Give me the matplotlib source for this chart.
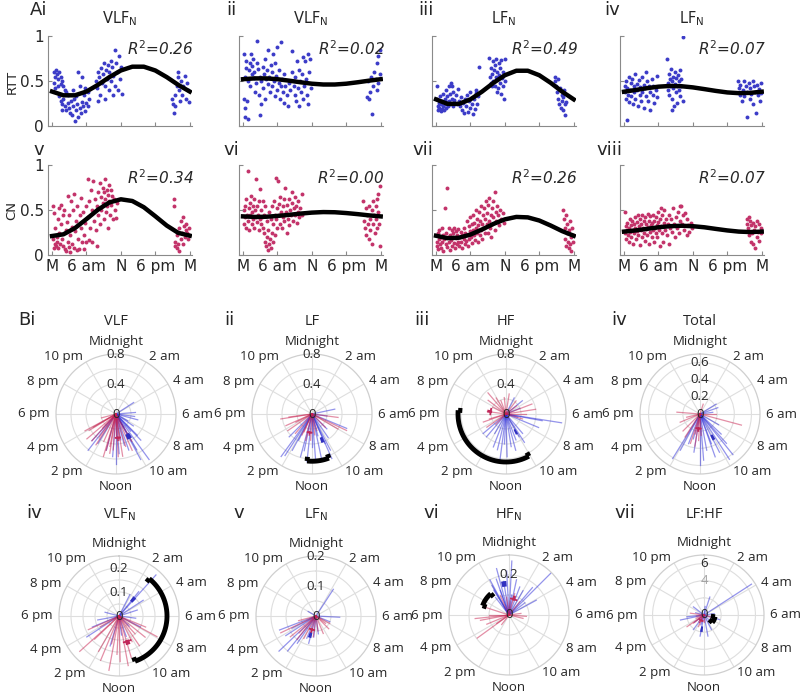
import numpy as np
import matplotlib.pyplot as plt

W, H = 800, 697
BLUE = '#3c3cc8'
RED = '#c3336a'

# ---------------- A: scatter panels (hour, value) ----------------
rtt_vlf = [(0.3,0.60),(0.5,0.55),(0.7,0.62),(0.9,0.58),(1.1,0.52),(0.4,0.48),(1.3,0.60),(1.6,0.55),
           (1.8,0.50),(2.0,0.45),(0.6,0.42),(2.2,0.40),(1.0,0.45),(1.5,0.47),(2.4,0.38),
           (1.2,0.33),(1.5,0.28),(1.8,0.25),(2.0,0.30),(2.3,0.22),(2.5,0.18),(2.7,0.26),(3.0,0.20),
           (3.2,0.15),(3.3,0.28),(3.5,0.12),(3.7,0.22),(3.9,0.30),(4.0,0.06),(4.2,0.18),(4.4,0.25),
           (4.6,0.10),(4.8,0.20),(5.0,0.14),(5.2,0.27),(5.4,0.22),(5.6,0.35),(5.8,0.17),(6.0,0.26),
           (6.3,0.22),(2.8,0.35),(3.6,0.40),(1.7,0.18),(4.1,0.33),(4.9,0.45),(5.3,0.55),(5.7,0.42),
           (6.5,0.30),(6.2,0.38),(4.6,0.60),
           (7.7,0.50),(7.9,0.42),(8.0,0.60),(8.2,0.55),(8.4,0.35),(8.5,0.65),(8.7,0.48),(8.9,0.58),
           (9.0,0.70),(9.2,0.45),(9.4,0.62),(9.5,0.52),(9.7,0.68),(9.9,0.40),(10.0,0.60),(10.2,0.72),
           (10.3,0.50),(10.5,0.66),(10.7,0.56),(10.9,0.85),(11.0,0.45),(11.2,0.70),(11.4,0.60),
           (11.6,0.78),(11.8,0.52),(12.0,0.66),(12.2,0.36),(11.5,0.40),(10.6,0.35),(9.3,0.30),(8.1,0.28),
           (20.9,0.30),(21.1,0.25),(21.3,0.15),(21.5,0.35),(21.7,0.45),(21.9,0.55),(22.1,0.40),
           (22.3,0.28),(22.5,0.50),(22.7,0.35),(22.9,0.45),(23.1,0.56),(23.3,0.30),(23.5,0.48),
           (23.7,0.40),(23.9,0.27),(22.0,0.60),(21.4,0.22)]
rtt_vlf2 = [(0.1,0.80),(0.2,0.30),(0.3,0.20),(0.4,0.10),(0.5,0.65),(0.3,0.55),(0.6,0.72),(0.7,0.28),
            (0.8,0.08),(0.9,0.50),(1.0,0.62),(1.2,0.70),(1.3,0.45),(1.4,0.80),(1.5,0.58),(1.6,0.67),
            (1.8,0.75),(1.9,0.53),(2.0,0.60),(2.1,0.38),(2.2,0.48),(2.4,0.70),(2.5,0.95),(2.6,0.63),
            (2.8,0.35),(2.9,0.55),(3.0,0.12),(3.1,0.25),(3.2,0.50),(3.4,0.66),(3.5,0.42),(3.6,0.58),
            (3.8,0.30),(3.9,0.75),(4.0,0.52),(4.2,0.62),(4.3,0.47),(4.4,0.85),(4.6,0.55),(4.7,0.38),
            (4.8,0.68),(5.0,0.60),(5.1,0.45),(5.2,0.80),(5.4,0.50),(5.5,0.33),(5.6,0.70),(5.8,0.56),
            (5.9,0.40),(6.0,0.88),(6.2,0.48),(6.3,0.62),(6.4,0.30),(6.6,0.44),(6.7,0.93),(6.8,0.52),
            (7.0,0.38),(7.1,0.26),(7.2,0.58),(7.4,0.45),(7.6,0.35),(7.8,0.22),(8.0,0.48),(8.2,0.40),
            (8.5,0.83),(8.6,0.60),(8.8,0.45),(9.0,0.35),(9.1,0.55),(9.3,0.28),(9.4,0.72),(9.5,0.42),
            (9.7,0.62),(9.8,0.22),(10.0,0.50),(10.1,0.38),(10.3,0.58),(10.4,0.77),(10.5,0.30),
            (10.6,0.45),(10.8,0.72),(11.0,0.52),(11.1,0.35),(11.3,0.80),(11.4,0.25),(11.5,0.60),
            (11.6,0.75),(11.8,0.42),(21.6,0.32),(21.8,0.50),(22.0,0.30),(22.3,0.55),(22.5,0.13),
            (22.7,0.45),(22.9,0.60),(23.1,0.52),(23.3,0.70),(23.5,0.48),(23.6,0.78),(23.8,0.58),
            (23.9,0.85),(23.4,0.40),(22.2,0.38)]
rtt_lf = [(0.1,0.30),(0.2,0.44),(0.3,0.22),(0.4,0.18),(0.5,0.26),(0.6,0.20),(0.7,0.33),(0.8,0.17),
          (0.9,0.24),(1.0,0.28),(1.1,0.19),(1.2,0.36),(1.3,0.22),(1.4,0.18),(1.5,0.30),(1.6,0.24),
          (1.7,0.40),(1.8,0.20),(1.9,0.27),(2.0,0.33),(2.1,0.22),(2.2,0.44),(2.3,0.28),(2.4,0.36),
          (2.5,0.25),(2.6,0.48),(2.7,0.30),(2.8,0.45),(2.9,0.22),(3.0,0.38),(3.2,0.29),(3.4,0.35),
          (3.6,0.24),(3.8,0.41),(4.0,0.28),(4.2,0.22),(4.4,0.32),(4.6,0.18),(4.7,0.26),(4.9,0.14),
          (5.0,0.30),(5.2,0.22),(5.4,0.35),(5.5,0.16),(5.7,0.28),(5.9,0.20),(6.0,0.38),(6.2,0.25),
          (6.4,0.13),(6.6,0.30),(6.8,0.19),(7.0,0.37),(7.2,0.24),(7.4,0.33),(7.5,0.66),(6.9,0.40),
          (9.2,0.76),(9.4,0.55),(9.5,0.48),(9.6,0.65),(9.8,0.58),(9.9,0.72),(10.0,0.50),(10.1,0.62),
          (10.2,0.45),(10.3,0.68),(10.4,0.55),(10.5,0.75),(10.6,0.52),(10.7,0.60),(10.8,0.42),
          (10.9,0.70),(11.0,0.57),(11.1,0.48),(11.2,0.64),(11.3,0.36),(11.4,0.73),(11.5,0.53),
          (11.6,0.45),(11.7,0.60),(11.8,0.30),(12.0,0.50),(12.1,0.75),(9.7,0.44),(10.6,0.38),
          (20.7,0.55),(20.8,0.50),(21.0,0.45),(21.1,0.38),(21.2,0.52),(21.3,0.30),(21.5,0.25),
          (21.6,0.42),(21.7,0.20),(21.9,0.35),(22.0,0.28),(22.1,0.18),(22.2,0.32),(22.4,0.24),
          (22.5,0.12),(22.7,0.27),(22.3,0.40)]
rtt_lf2 = [(0.1,0.45),(0.2,0.38),(0.3,0.30),(0.4,0.50),(0.5,0.42),(0.6,0.07),(0.7,0.35),(0.8,0.55),
           (0.9,0.27),(1.0,0.40),(1.2,0.48),(1.3,0.33),(1.4,0.52),(1.5,0.25),(1.7,0.44),(1.8,0.38),
           (1.9,0.58),(2.0,0.30),(2.2,0.47),(2.3,0.40),(2.4,0.22),(2.6,0.51),(2.7,0.35),(2.8,0.43),
           (3.0,0.28),(3.1,0.55),(3.2,0.38),(3.4,0.46),(3.5,0.20),(3.6,0.42),(3.8,0.60),(3.9,0.33),
           (4.0,0.50),(4.2,0.28),(4.3,0.44),(4.5,0.38),(4.6,0.18),(4.8,0.52),(5.0,0.35),(5.1,0.45),
           (5.3,0.26),(5.5,0.40),(5.7,0.56),(5.8,0.32),
           (7.5,0.75),(7.6,0.48),(7.7,0.40),(7.8,0.58),(7.9,0.35),(8.0,0.52),(8.1,0.45),(8.2,0.63),
           (8.3,0.30),(8.4,0.50),(8.5,0.42),(8.6,0.55),(8.7,0.22),(8.8,0.47),(8.9,0.60),(9.0,0.38),
           (9.1,0.53),(9.2,0.44),(9.3,0.26),(9.4,0.57),(9.5,0.40),(9.6,0.50),(9.7,0.33),(9.8,0.62),
           (10.0,0.45),(10.2,0.99),(10.2,0.28),(8.3,0.18),(9.9,0.52),
           (19.8,0.50),(20.0,0.42),(20.2,0.35),(20.3,0.46),(20.5,0.28),(20.7,0.40),(20.9,0.50),
           (21.0,0.33),(21.2,0.45),(21.4,0.38),(21.5,0.10),(21.7,0.48),(21.9,0.30),(22.0,0.42),
           (22.2,0.36),(22.4,0.50),(22.5,0.25),(22.7,0.44),(22.9,0.38),(23.0,0.15),(23.2,0.46),
           (23.4,0.34),(23.5,0.41),(23.7,0.28),(23.8,0.48),(23.9,0.37)]
cn_vlf = [(0.1,0.55),(0.2,0.18),(0.3,0.08),(0.4,0.47),(0.5,0.12),(0.6,0.30),(0.7,0.10),(0.8,0.20),
          (0.9,0.15),(1.0,0.40),(1.1,0.08),(1.2,0.52),(1.3,0.25),(1.4,0.12),(1.5,0.56),(1.6,0.35),
          (1.8,0.18),(1.9,0.44),(2.0,0.10),(2.1,0.50),(2.3,0.07),(2.4,0.28),(2.5,0.04),(2.6,0.37),
          (2.7,0.66),(2.8,0.15),(2.9,0.09),(3.0,0.45),(3.1,0.22),(3.2,0.03),(3.3,0.60),(3.4,0.31),
          (3.5,0.12),(3.7,0.50),(3.8,0.08),(3.9,0.68),(4.0,0.27),(4.2,0.38),(4.3,0.06),(4.4,0.55),
          (4.5,0.18),(4.7,0.07),(4.8,0.44),(5.0,0.30),(5.1,0.63),(5.2,0.14),(5.4,0.48),(5.5,0.22),
          (5.6,0.07),(5.8,0.36),(5.9,0.55),(6.0,0.15),(6.2,0.85),(6.3,0.42),(6.4,0.17),(6.5,0.60),
          (6.6,0.30),(6.8,0.72),(6.9,0.50),(7.0,0.15),(7.2,0.82),(7.3,0.38),(7.5,0.62),(7.6,0.28),
          (7.8,0.10),(7.9,0.55),(8.0,0.70),(8.1,0.45),(8.3,0.80),(8.4,0.34),(8.5,0.65),(8.6,0.50),
          (8.8,0.75),(8.9,0.58),(9.0,0.40),(9.1,0.70),(9.2,0.85),(9.3,0.62),(9.4,0.48),(9.5,0.72),
          (9.6,0.55),(9.7,0.30),(9.8,0.67),(9.9,0.78),(10.0,0.60),(10.1,0.45),(10.2,0.72),(10.3,0.56),
          (10.5,0.66),(10.6,0.40),(10.8,0.62),(11.0,0.50),(11.2,0.41),(11.4,0.58),
          (21.2,0.62),(21.3,0.55),(21.4,0.15),(21.5,0.10),(21.7,0.22),(21.8,0.08),(22.0,0.12),
          (22.1,0.30),(22.2,0.05),(22.4,0.18),(22.5,0.38),(22.6,0.25),(22.8,0.42),(22.9,0.12),
          (23.0,0.32),(23.2,0.20),(23.3,0.28),(23.4,0.35),(23.6,0.25),(23.7,0.18),(23.8,0.30),(23.9,0.22)]
cn_vlf2 = [(0.1,0.50),(0.2,0.35),(0.3,0.55),(0.4,0.42),(0.5,0.30),(0.6,0.62),(0.7,0.45),(0.8,0.93),
           (0.9,0.38),(1.0,0.52),(1.1,0.28),(1.2,0.58),(1.3,0.44),(1.4,0.66),(1.5,0.35),(1.6,0.48),
           (1.7,0.55),(1.8,0.40),(1.9,0.62),(2.0,0.30),(2.1,0.50),(2.2,0.42),(2.3,0.85),(2.4,0.37),
           (2.5,0.55),(2.6,0.45),(2.7,0.60),(2.8,0.28),(2.9,0.40),(3.0,0.73),(3.1,0.50),(3.2,0.35),
           (3.3,0.42),(3.4,0.60),(3.5,0.30),(3.6,0.24),(3.7,0.44),(3.8,0.15),(3.9,0.55),(4.0,0.10),
           (4.1,0.38),(4.2,0.20),(4.3,0.06),(4.4,0.28),(4.5,0.48),(4.6,0.12),(4.7,0.18),(4.8,0.40),
           (4.9,0.08),(5.0,0.25),(5.1,0.55),(5.2,0.15),(5.3,0.35),(5.4,0.60),(5.5,0.22),(5.6,0.45),
           (5.7,0.86),(5.8,0.40),(5.9,0.30),(6.0,0.52),(6.1,0.82),(6.2,0.44),(6.3,0.57),(6.4,0.35),
           (6.5,0.65),(6.6,0.48),(6.8,0.30),(6.9,0.55),(7.0,0.42),(7.1,0.62),(7.2,0.38),(7.4,0.75),
           (7.5,0.48),(7.6,0.25),(7.7,0.56),(7.9,0.40),(8.0,0.62),(8.1,0.33),(8.2,0.50),(8.4,0.45),
           (8.5,0.58),(8.6,0.70),(8.7,0.38),(8.9,0.52),(9.0,0.64),(9.1,0.44),(9.3,0.55),(9.4,0.36),
           (9.5,0.48),(9.6,0.60),(9.8,0.42),(10.0,0.52),(10.2,0.68),(10.3,0.45),
           (21.0,0.60),(21.1,0.38),(21.3,0.30),(21.4,0.52),(21.5,0.22),(21.6,0.45),(21.8,0.35),
           (21.9,0.55),(22.0,0.18),(22.1,0.40),(22.2,0.28),(22.4,0.50),(22.5,0.12),(22.6,0.35),
           (22.7,0.60),(22.8,0.45),(23.0,0.25),(23.1,0.55),(23.2,0.40),(23.3,0.62),(23.4,0.30),
           (23.5,0.48),(23.6,0.68),(23.7,0.35),(23.8,0.77),(23.9,0.10)]
cn_lf = [(0.1,0.15),(0.2,0.10),(0.3,0.25),(0.4,0.07),(0.5,0.18),(0.6,0.28),(0.7,0.12),(0.8,0.20),
         (0.9,0.08),(1.0,0.30),(1.1,0.15),(1.2,0.22),(1.3,0.05),(1.4,0.18),(1.6,0.52),(1.7,0.12),
         (1.8,0.25),(1.9,0.75),(2.0,0.09),(2.1,0.20),(2.2,0.30),(2.3,0.14),(2.4,0.06),(2.5,0.22),
         (2.6,0.17),(2.7,0.28),(2.8,0.10),(2.9,0.20),(3.0,0.25),(3.1,0.13),(3.2,0.30),(3.3,0.08),
         (3.4,0.19),(3.5,0.27),(3.6,0.12),(3.7,0.22),(3.8,0.15),(3.9,0.29),(4.0,0.10),(4.1,0.20),
         (4.3,0.26),(4.4,0.14),(4.5,0.08),(4.6,0.22),(4.8,0.18),(4.9,0.30),(5.0,0.12),(5.1,0.25),
         (5.3,0.16),(5.4,0.38),(5.5,0.22),(5.6,0.10),(5.7,0.32),(5.8,0.18),(5.9,0.27),(6.0,0.42),
         (6.1,0.20),(6.2,0.35),(6.3,0.13),(6.4,0.28),(6.5,0.45),(6.6,0.22),(6.7,0.36),(6.8,0.17),
         (6.9,0.30),(7.0,0.50),(7.1,0.25),(7.2,0.40),(7.3,0.15),(7.4,0.33),(7.5,0.48),(7.6,0.22),
         (7.7,0.38),(7.8,0.28),(7.9,0.55),(8.0,0.35),(8.1,0.18),(8.2,0.45),(8.3,0.30),(8.4,0.52),
         (8.5,0.24),(8.6,0.40),(8.7,0.60),(8.8,0.34),(8.9,0.47),(9.0,0.25),(9.1,0.56),(9.2,0.38),
         (9.3,0.63),(9.4,0.30),(9.5,0.44),(9.6,0.20),(9.7,0.52),(9.8,0.35),(9.9,0.60),(10.0,0.42),
         (10.2,0.70),(10.3,0.28),(10.4,0.48),(10.5,0.38),(10.6,0.55),(10.8,0.44),(11.0,0.33),
         (11.2,0.50),(11.4,0.40),(11.6,0.47),(11.8,0.36),
         (22.2,0.50),(22.3,0.40),(22.4,0.30),(22.5,0.18),(22.6,0.45),(22.7,0.10),(22.8,0.35),
         (22.9,0.25),(23.0,0.15),(23.1,0.08),(23.2,0.28),(23.3,0.38),(23.4,0.12),(23.5,0.20),
         (23.6,0.05),(23.7,0.30),(23.8,0.14),(23.9,0.22)]
cn_lf2 = [(0.1,0.48),(0.2,0.25),(0.3,0.32),(0.4,0.18),(0.5,0.28),(0.6,0.36),(0.7,0.22),(0.8,0.30),
          (0.9,0.15),(1.0,0.40),(1.1,0.26),(1.2,0.33),(1.3,0.20),(1.4,0.38),(1.5,0.28),(1.6,0.12),
          (1.7,0.35),(1.8,0.24),(1.9,0.42),(2.0,0.30),(2.1,0.18),(2.2,0.37),(2.3,0.27),(2.4,0.44),
          (2.5,0.22),(2.6,0.32),(2.7,0.11),(2.8,0.40),(2.9,0.28),(3.0,0.35),(3.1,0.20),(3.2,0.45),
          (3.3,0.30),(3.4,0.25),(3.5,0.38),(3.6,0.16),(3.7,0.42),(3.8,0.29),(3.9,0.34),(4.0,0.22),
          (4.1,0.46),(4.2,0.31),(4.3,0.12),(4.4,0.38),(4.5,0.26),(4.6,0.43),(4.7,0.33),(4.8,0.20),
          (4.9,0.36),(5.0,0.28),(5.1,0.45),(5.2,0.14),(5.3,0.38),(5.4,0.30),(5.5,0.24),(5.6,0.42),
          (5.7,0.33),(5.8,0.20),(5.9,0.37),(6.0,0.48),(6.1,0.28),(6.2,0.10),(6.3,0.40),(6.4,0.32),
          (6.5,0.52),(6.6,0.25),(6.7,0.44),(6.8,0.15),(6.9,0.36),(7.0,0.50),(7.2,0.28),(7.3,0.40),
          (7.5,0.22),(7.6,0.35),(7.8,0.45),(7.9,0.12),(8.0,0.30),(8.2,0.40),(8.4,0.26),(8.5,0.52),
          (8.7,0.35),(8.8,0.20),(9.0,0.42),(9.2,0.30),(9.4,0.48),(9.5,0.25),(9.7,0.38),(9.8,0.55),
          (10.0,0.55),(10.1,0.34),(10.3,0.44),(10.5,0.28),(10.7,0.47),(10.9,0.22),(11.0,0.40),
          (11.2,0.33),(11.4,0.26),(11.6,0.36),(11.8,0.30),
          (21.4,0.40),(21.5,0.35),(21.6,0.30),(21.7,0.42),(21.8,0.22),(22.0,0.38),(22.1,0.15),
          (22.2,0.33),(22.3,0.25),(22.4,0.12),(22.5,0.36),(22.7,0.28),(22.8,0.08),(22.9,0.32),
          (23.1,0.20),(23.2,0.38),(23.3,0.26),(23.5,0.34),(23.6,0.16),(23.8,0.30),(23.9,0.24)]

# fitted curves, read every 2 h
fit_hours = [0, 2, 4, 6, 8, 10, 12, 14, 16, 18, 20, 22, 24]
fit_rtt_vlf = [0.383, 0.341, 0.341, 0.383, 0.457, 0.543, 0.617, 0.659, 0.659, 0.617, 0.543, 0.457, 0.383]
fit_rtt_vlf2 = [0.520, 0.529, 0.529, 0.520, 0.504, 0.486, 0.470, 0.461, 0.461, 0.470, 0.486, 0.504, 0.520]
fit_rtt_lf = [0.296, 0.246, 0.246, 0.296, 0.381, 0.479, 0.564, 0.614, 0.614, 0.564, 0.479, 0.381, 0.296]
fit_rtt_lf2 = [0.381, 0.400, 0.420, 0.437, 0.445, 0.442, 0.429, 0.410, 0.390, 0.373, 0.365, 0.368, 0.381]
fit_cn_vlf = [0.211, 0.230, 0.299, 0.399, 0.503, 0.584, 0.619, 0.600, 0.531, 0.431, 0.327, 0.246, 0.215]
fit_cn_vlf2 = [0.429, 0.423, 0.425, 0.434, 0.446, 0.460, 0.471, 0.477, 0.475, 0.466, 0.454, 0.440, 0.429]
fit_cn_lf = [0.214, 0.187, 0.192, 0.227, 0.283, 0.345, 0.396, 0.423, 0.418, 0.383, 0.327, 0.265, 0.214]
fit_cn_lf2 = [0.260, 0.273, 0.290, 0.308, 0.320, 0.325, 0.320, 0.308, 0.290, 0.273, 0.260, 0.255, 0.260]

r2_text = ['0.26', '0.02', '0.49', '0.07', '0.34', '0.00', '0.26', '0.07']
a_titles = ['VLF$_\\mathrm{N}$', 'VLF$_\\mathrm{N}$', 'LF$_\\mathrm{N}$', 'LF$_\\mathrm{N}$']
a_tags = ['Ai', 'ii', 'iii', 'iv', 'v', 'vi', 'vii', 'viii']
hour_ticks = [0, 6, 12, 18, 24]
hour_labels = ['M', '6 am', 'N', '6 pm', 'M']

# ---------------- B: polar panels (hour, amplitude) ----------------
vlf_blue = [(3.8,0.28),(5.7,0.26),(6.5,0.25),(7.0,0.30),(8.3,0.28),(9.0,0.40),(9.1,0.48),(9.6,0.75),
            (10.1,0.69),(10.0,0.55),(10.7,0.51),(11.0,0.43),(11.7,0.53),(12.0,0.66),(12.3,0.57),
            (13.0,0.50),(14.1,0.46),(14.5,0.61),(14.8,0.48),(10.0,0.30),(9.3,0.30),(10.0,0.20),
            (8.0,0.18),(11.3,0.35)]
vlf_red = [(16.1,0.47),(15.9,0.42),(15.3,0.51),(14.8,0.48),(14.2,0.49),(13.1,0.59),(13.0,0.50),
           (12.6,0.53),(12.3,0.48),(11.8,0.57),(11.4,0.57),(10.9,0.45),(11.5,0.35),(10.0,0.42),
           (14.4,0.38),(16.0,0.35),(14.9,0.26),(12.7,0.44),(10.4,0.53),(13.6,0.40),(17.0,0.20),(12.0,0.30)]
lf_blue = [(14.4,0.70),(14.2,0.66),(13.9,0.55),(13.0,0.59),(12.4,0.64),(11.7,0.64),(11.2,0.63),
           (10.4,0.65),(10.2,0.54),(5.2,0.31),(7.5,0.50),(9.7,0.38),(10.4,0.43),(12.0,0.44),
           (13.8,0.39),(15.0,0.43),(11.0,0.30),(12.8,0.50),(9.0,0.28),(6.5,0.20)]
lf_red = [(17.4,0.42),(16.4,0.38),(15.7,0.39),(14.7,0.34),(13.7,0.31),(12.9,0.36),(12.2,0.35),
          (10.9,0.23),(9.0,0.25),(7.7,0.51),(6.5,0.35),(16.2,0.24),(17.5,0.31),(13.6,0.26),
          (8.0,0.40),(11.5,0.28)]
hf_blue = [(6.6,0.75),(6.7,0.49),(7.5,0.47),(9.3,0.34),(10.0,0.35),(10.6,0.37),(11.4,0.44),
           (11.9,0.57),(12.5,0.62),(12.9,0.49),(13.4,0.47),(14.7,0.40),(15.3,0.40),(7.0,0.16),
           (3.4,0.28),(1.8,0.24),(11.0,0.50),(12.2,0.40),(14.0,0.30),(9.8,0.45),(4.5,0.20)]
hf_red = [(21.3,0.37),(21.9,0.25),(23.6,0.22),(0.6,0.27),(2.5,0.22),(4.6,0.37),(5.4,0.40),(6.0,0.26),
          (16.9,0.23),(16.7,0.32),(15.7,0.31),(19.8,0.20),(15.0,0.19),(22.6,0.19),(7.1,0.23),
          (18.5,0.25),(20.5,0.30),(3.5,0.18)]
tot_blue = [(14.1,0.61),(13.9,0.48),(13.4,0.37),(12.0,0.59),(11.7,0.54),(10.7,0.53),(9.8,0.63),
            (9.4,0.61),(9.2,0.46),(8.9,0.34),(3.9,0.22),(4.7,0.22),(5.5,0.15),(10.6,0.37),
            (11.3,0.43),(12.6,0.45),(10.2,0.50),(8.0,0.25),(13.0,0.30)]
tot_red = [(18.3,0.27),(17.1,0.16),(16.5,0.25),(14.2,0.32),(13.2,0.36),(12.2,0.31),(12.9,0.24),
           (7.0,0.50),(6.0,0.19),(1.2,0.12),(15.0,0.28),(12.6,0.38),(11.8,0.25)]
vlfn_blue = [(2.8,0.23),(2.6,0.13),(3.8,0.12),(15.8,0.16),(17.3,0.09),(7.8,0.10),(10.7,0.09),
             (13.1,0.13),(1.8,0.10),(4.8,0.08),(16.5,0.12),(11.5,0.08),(19.0,0.06),(6.5,0.07),(9.0,0.06)]
vlfn_red = [(15.2,0.22),(12.7,0.23),(13.5,0.20),(11.9,0.19),(10.9,0.18),(7.9,0.18),(7.5,0.12),
            (9.7,0.15),(15.1,0.14),(16.4,0.14),(16.0,0.09),(12.2,0.16),(14.0,0.17),(8.6,0.14),
            (10.2,0.12),(11.3,0.21),(13.0,0.12),(9.2,0.10)]
lfn_blue = [(2.2,0.106),(16.6,0.13),(15.1,0.17),(14.6,0.15),(14.3,0.11),(13.0,0.094),(6.2,0.079),
            (15.8,0.12),(12.4,0.07),(11.5,0.06),(7.5,0.05),(20.0,0.03),(16.2,0.09),(13.5,0.08)]
lfn_red = [(16.3,0.13),(15.4,0.11),(13.9,0.085),(7.9,0.052),(10.5,0.063),(12.5,0.07),(14.6,0.10),
           (9.0,0.06),(11.5,0.05),(15.0,0.08),(13.2,0.06),(17.0,0.06),(8.5,0.04)]
hfn_blue = [(3.0,0.30),(0.2,0.27),(22.1,0.20),(22.7,0.19),(23.4,0.17),(0.8,0.18),(2.7,0.18),
            (4.1,0.155),(22.7,0.13),(21.9,0.145),(1.4,0.15),(23.8,0.22),(2.0,0.14),(21.5,0.11),
            (0.5,0.10),(3.5,0.10),(22.0,0.17),(23.0,0.24)]
hfn_red = [(15.6,0.196),(17.6,0.17),(17.3,0.145),(15.7,0.074),(6.9,0.072),(6.3,0.087),(1.0,0.11),
           (22.4,0.108),(2.6,0.085),(19.2,0.133),(16.5,0.12),(18.0,0.10),(5.5,0.06),(0.3,0.07),
           (23.5,0.09),(14.5,0.06)]
ratio_blue = [(3.8,6.6),(1.2,2.2),(20.5,1.55),(17.6,2.0),(17.2,2.8),(11.3,2.5),(12.7,2.5),(10.2,1.9),
              (7.1,1.9),(14.4,2.1),(13.2,1.2),(9.0,1.0),(19.0,1.0),(0.5,1.0),(15.5,1.4),(5.5,1.2)]
ratio_red = [(15.7,2.4),(15.5,1.55),(13.7,1.5),(18.5,1.6),(7.1,1.3),(14.5,1.0),(16.5,1.0),
             (12.0,0.8),(17.5,0.9)]

# group means (start hour, end hour, amplitude) and phase-difference arcs
mean_blue = [(9.7,10.4,0.34),(10.4,10.8,0.37),(9.9,10.3,0.27),(9.9,10.3,0.31),
             (2.4,3.0,0.09),(12.8,13.4,0.066),(23.1,23.7,0.157),(12.3,12.9,1.67)]
mean_red = [(11.6,11.8,0.33),(12.4,12.6,0.26),(18.3,18.9,0.22),(12.2,12.6,0.18),
            (10.5,11.1,0.115),(12.9,13.3,0.05),(0.8,1.4,0.087),(13.8,14.2,0.8)]
diff_arcs = [None, (10.6,12.4,0.63), (10.1,18.3,0.64), None,
             (2.6,10.7,0.2), None, (19.3,21.3,0.14), (6.6,8.8,1.3)]

b_titles = ['VLF', 'LF', 'HF', 'Total', 'VLF$_\\mathrm{N}$', 'LF$_\\mathrm{N}$', 'HF$_\\mathrm{N}$', 'LF:HF']
b_tags = ['Bi', 'ii', 'iii', 'iv', 'iv', 'v', 'vi', 'vii']
b_rmax = [0.8, 0.8, 0.8, 0.7, 0.25, 0.2, 0.3, 7]
b_grid = [[0.2,0.4,0.6], [0.2,0.4,0.6], [0.2,0.4,0.6], [0.2,0.4,0.6],
          [0.05,0.1,0.15,0.2], [0.05,0.1,0.15], [0.1,0.2], [2,4,6]]
b_rlabels = [[0.4,0.8], [0.4,0.8], [0.4,0.8], [0.2,0.4,0.6], [0.1,0.2], [0.1,0.2], [0.2], [4,6]]
clock_labels = ['Midnight', '2 am', '4 am', '6 am', '8 am', '10 am',
                'Noon', '2 pm', '4 pm', '6 pm', '8 pm', '10 pm']


def rad(h):
    return np.asarray(h, dtype=float) / 24 * 2 * np.pi


def draw_arc(ax, h1, h2, r, color, lw, tick=0.0):
    th = rad(np.linspace(h1, h2, 40))
    ax.plot(th, np.full_like(th, r), color=color, lw=lw, solid_capstyle='butt', zorder=5)
    if tick:
        for t in (th[0], th[-1]):
            ax.plot([t, t], [r, r - tick], color=color, lw=lw, solid_capstyle='butt', zorder=5)


fig = plt.figure(figsize=(W / 100, H / 100), dpi=100)

# ---- A ----
a_pts = [rtt_vlf, rtt_vlf2, rtt_lf, rtt_lf2, cn_vlf, cn_vlf2, cn_lf, cn_lf2]
a_fits = [fit_rtt_vlf, fit_rtt_vlf2, fit_rtt_lf, fit_rtt_lf2, fit_cn_vlf, fit_cn_vlf2, fit_cn_lf, fit_cn_lf2]
a_left = [48, 239, 432, 620]
a_bottom = [126, 255]
tag_x = [39, 231, 426, 612, 39, 231, 423, 609]
for i in range(8):
    row, col = divmod(i, 4)
    ax = fig.add_axes([a_left[col] / W, 1 - a_bottom[row] / H, 144 / W, 90 / H])
    pts = np.array(a_pts[i])
    ax.scatter(pts[:, 0], pts[:, 1], s=8, color=BLUE if row == 0 else RED, lw=0)
    ax.plot(fit_hours, a_fits[i], color='k', lw=3.2, solid_joinstyle='round')
    ax.set_xlim(-0.7, 24.4)
    ax.set_ylim(0, 1)
    for s in ['top', 'right']:
        ax.spines[s].set_visible(False)
    for s in ['left', 'bottom']:
        ax.spines[s].set_color('#8a8a8a')
    ax.tick_params(direction='in', length=3, color='#8a8a8a', labelcolor='#262626', pad=3,
                   labelsize=11)
    ax.set_xticks(hour_ticks)
    ax.set_xticklabels(hour_labels if row == 1 else [])
    ax.set_yticks([0, 0.5, 1])
    ax.set_yticklabels(['0', '0.5', '1'] if col == 0 else [])
    ax.text(1.01, 0.86, r'$R^2$=' + r2_text[i], transform=ax.transAxes, ha='right', va='center',
            fontsize=11, style='italic', color='#262626')
    if row == 0:
        ax.set_title(a_titles[col], fontsize=10.5, pad=9, color='#262626')
    fig.text(tag_x[i] / W, 1 - (10 if row == 0 else 150) / H, a_tags[i], fontsize=13,
             ha='center', va='center', color='#262626')

fig.text(12 / W, 1 - 82 / H, 'RTT', rotation=90, fontsize=9.5, ha='center', va='center', color='#262626')
fig.text(12 / W, 1 - 210 / H, 'CN', rotation=90, fontsize=9.5, ha='center', va='center', color='#262626')

# ---- B ----
b_blue = [vlf_blue, lf_blue, hf_blue, tot_blue, vlfn_blue, lfn_blue, hfn_blue, ratio_blue]
b_red = [vlf_red, lf_red, hf_red, tot_red, vlfn_red, lfn_red, hfn_red, ratio_red]
b_cx = [116, 312, 506, 700, 119, 316, 509, 704]
b_cy = [414, 414, 414, 414, 616, 616, 615, 615]
b_tag_x = [27, 229, 422, 619, 34, 239, 431, 625]
R = 60
for i in range(8):
    cx, cy, rmax = b_cx[i], b_cy[i], b_rmax[i]
    ax = fig.add_axes([(cx - R) / W, 1 - (cy + R) / H, 2 * R / W, 2 * R / H], projection='polar')
    ax.set_theta_zero_location('N')
    ax.set_theta_direction(-1)
    ax.set_ylim(0, rmax)
    ax.set_xticks(rad(np.arange(0, 24, 2)))
    ax.set_xticklabels([])
    ax.set_yticks(b_grid[i])
    ax.set_yticklabels([])
    ax.grid(color='#dedede', lw=0.8)
    ax.spines['polar'].set_color('#cfcfcf')
    ax.spines['polar'].set_linewidth(0.9)
    ax.tick_params(length=0)

    for h, a in b_blue[i]:
        ax.plot([0, rad(h)], [0, a], color='#2a2ad8', alpha=0.5, lw=0.9)
    for h, a in b_red[i]:
        ax.plot([0, rad(h)], [0, a], color='#c8204e', alpha=0.5, lw=0.9)

    draw_arc(ax, *mean_blue[i], color='#3030c0', lw=4)
    draw_arc(ax, *mean_red[i], color='#c0285a', lw=3.5, tick=rmax * 0.03)
    if diff_arcs[i] is not None:
        draw_arc(ax, *diff_arcs[i], color='k', lw=3.5, tick=rmax * 0.07)

    # radial labels along the midnight axis
    ax.text(0, 0, '0', ha='center', va='center', fontsize=9.5, color='#262626', zorder=6,
            family='Open Sans')
    for v in b_rlabels[i]:
        c = '#a0a0a0' if (i == 7 and v == 4) else '#262626'
        ax.text(0, v, f'{v:g}', ha='center', va='center', fontsize=9.5, color=c, zorder=6,
                family='Open Sans')

    # clock labels
    for k, lab in enumerate(clock_labels):
        th = rad(2 * k)
        s, c = np.sin(th), np.cos(th)
        ha = 'left' if s > 0.01 else ('right' if s < -0.01 else 'center')
        va = 'bottom' if c > 0.99 else ('top' if c < -0.99 else 'center')
        ax.text(th, rmax * 1.1, lab, ha=ha, va=va, fontsize=9.5, color='#262626',
                family='Open Sans', clip_on=False)

    ty = 322 if i < 4 else 515
    fig.text(cx / W, 1 - ty / H, b_titles[i], ha='center', va='center', fontsize=10.5,
             color='#262626', family='Open Sans')
    fig.text(b_tag_x[i] / W, 1 - (320 if i < 4 else 513) / H, b_tags[i], ha='center', va='center',
             fontsize=13, color='#262626')

fig.savefig('out.png', dpi=100)
